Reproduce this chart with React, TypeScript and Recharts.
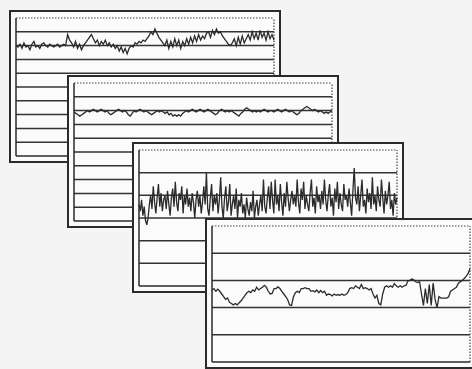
import { Line, LineChart, ReferenceLine, XAxis, YAxis } from 'recharts';

// four stacked strip-chart panels, no text, just traces

const panel1Values = [
  80, 79, 81, 78, 82, 79, 80, 77, 81, 83, 79, 80, 78, 81, 82, 80, 79, 81, 80, 79, 80, 81, 79, 80, 81, 80,
  88, 84, 82, 79, 83, 78, 81, 77, 80, 82,
  84, 86, 88, 85,
  82, 84, 80, 83, 81, 84, 80, 82, 79,
  81, 78, 80, 76, 79, 75, 78, 74, 78,
  80, 79, 82, 81, 83, 82, 84, 83, 85,
  87, 90, 88, 92, 89,
  86, 84, 82,
  80, 84, 78, 83, 79, 85, 80, 84, 78, 83, 80, 85,
  81, 86, 82, 87, 83, 88, 84, 87, 85, 89,
  90, 86, 91, 88, 92, 89, 90, 87,
  85, 83, 81, 80, 82,
  85, 80, 86, 81, 87, 82, 85,
  88, 84, 90, 85, 89, 84, 91, 86, 89, 84, 90, 85, 88, 84,
];

const panel2Values = [
  79, 78, 77, 76, 77, 78,
  79, 80, 79, 80, 81, 80, 79, 80, 81, 80, 79, 80,
  78, 77, 78, 79,
  80, 81, 80, 79, 80, 79,
  77, 76, 78,
  80, 79, 80, 81, 80, 79, 80, 79,
  78, 77, 78, 79,
  80, 79, 80, 79, 78, 79,
  77, 78, 76, 77, 76, 77, 76, 78, 79,
  80, 79, 80, 81, 80, 79, 80, 81, 80, 79, 80, 81, 80, 79,
  78, 77, 78, 80,
  81, 80, 79, 80, 79, 80, 79, 78,
  77, 76, 78, 79,
  81, 82, 81, 80, 79,
  80, 79, 80, 79, 80, 81, 80, 79, 80, 80, 79, 80, 81, 80, 79, 80, 81, 80, 79, 80, 79,
  78, 77, 78, 80,
  81, 82, 83, 82, 81,
  80, 81, 80, 79, 80, 79, 78, 79, 78, 79, 80,
];

const panel3Values = [
  36, 33, 38, 31, 35, 29, 27, 30, 36, 40, 34, 44, 37, 32, 39, 45, 35, 41, 33, 38,
  40, 34, 42, 36, 31, 39, 43, 35, 46, 37, 33, 41, 38, 44, 32, 40, 36, 43, 35, 39,
  33, 41, 37, 30, 38, 42, 35, 40, 32, 37, 44, 36, 50, 34, 31, 39, 45, 33, 40, 36,
  41, 32, 38, 48, 35, 30, 39, 44, 33, 37, 45, 31, 36, 40, 34, 43, 30, 38, 35, 41,
  32, 36, 30, 39, 34, 31, 37, 33, 42, 30, 35, 38, 31, 36, 40, 33, 47, 35, 32, 39,
  44, 34, 46, 38, 32, 47, 36, 40, 33, 45, 37, 31, 41, 35, 46, 39, 33, 38, 42, 36,
  40, 35, 47, 37, 32, 43, 38, 46, 34, 40, 36, 33, 41, 47, 35, 39, 32, 44, 37, 40,
  34, 42, 36, 47, 38, 33, 40, 45, 35, 39, 31, 43, 37, 46, 34, 41, 36, 33, 45, 38,
  40, 35, 43, 37, 31, 42, 52, 39, 36, 44, 33, 40, 47, 35, 38, 32, 43, 37, 41, 34,
  48, 36, 40, 33, 44, 38, 35, 47, 39, 32, 42, 36, 40, 46, 34, 38, 31, 41, 36, 39,
];

const panel4Values = [
  26.5, 27, 26, 26.8, 26,
  25, 24, 23, 23.5,
  22, 21.5, 21, 21.5, 21, 21.8, 22.5,
  23.5, 24.5, 25.5,
  26, 25.5, 26.5, 26, 27.5, 26.5,
  27, 27.5, 28.2, 27.5,
  26, 25, 25.2,
  27, 27, 27.6, 27,
  26, 25, 24,
  23, 21, 20.8,
  24, 25.5, 26, 25.5,
  27, 27, 27.3, 27, 27,
  26, 26.2,
  25.8, 26.5, 25.5, 26.3, 25.5, 26,
  24.5, 25, 24.8, 24.3, 25, 24.5, 24.8, 24.5, 25,
  24.5, 24.8, 25.5,
  27, 27.3, 27, 28, 27.5, 27, 28.5, 27, 27.3,
  27, 26.5, 27,
  25, 23.5, 24.5, 21.5, 21, 25,
  27.5, 28, 27.5, 28, 27.5, 28.8, 28, 27.5, 28, 27.5, 28, 28.2,
  29.8, 30, 30.5, 30.2,
  29.5, 29.2, 29.5,
  25, 20.8, 27, 21.5, 28.5, 20.8, 29, 23, 20,
  24, 23.5, 23.5, 23.5, 23.5, 24,
  26, 26.5, 27, 27.5,
  29, 29.5, 30, 30.7,
  31.5, 32.5, 34.3,
];

// grid levels below the dotted top edge (top edge = max)
const ticks1 = [10, 20, 30, 40, 50, 60, 70, 80, 90];
const ticks2 = [10, 20, 30, 40, 50, 60, 70, 80, 90];
const ticks3 = [10, 20, 30, 40, 50];
const ticks4 = [10, 20, 30, 40];

const INK = '#2b2b2b';

type PanelProps = {
  values: number[];
  ticks: number[];
  max: number;
  left: number;
  top: number;
  height: number;
};

function Panel({ values, ticks, max, left, top, height }: PanelProps) {
  const data = values.map((v, i) => ({ i, v }));
  const last = values.length - 1;
  return (
    <div
      style={{
        position: 'absolute',
        left,
        top,
        width: 272,
        height,
        boxSizing: 'border-box',
        border: `2px solid ${INK}`,
        background: '#fbfbfb',
      }}
    >
      <LineChart
        width={268}
        height={height - 4}
        data={data}
        margin={{ top: 6, right: 5, bottom: 5, left: 5 }}
      >
        <XAxis dataKey="i" type="number" domain={[0, last]} hide />
        <YAxis type="number" domain={[0, max]} ticks={ticks} hide />
        {ticks.map((t) => (
          <ReferenceLine key={t} y={t} stroke="#333" strokeWidth={1.5} />
        ))}
        <ReferenceLine y={max} stroke="#444" strokeWidth={1.2} strokeDasharray="1.5 1.5" />
        <ReferenceLine x={last} stroke="#444" strokeWidth={1.2} strokeDasharray="1.5 1.5" />
        <ReferenceLine x={0} stroke={INK} strokeWidth={1.5} />
        <ReferenceLine y={0} stroke={INK} strokeWidth={1.5} />
        <Line
          type="linear"
          dataKey="v"
          stroke={INK}
          strokeWidth={1.3}
          dot={false}
          isAnimationActive={false}
        />
      </LineChart>
    </div>
  );
}

export default function App() {
  return (
    <div
      style={{
        position: 'absolute',
        left: 0,
        top: 0,
        width: 472,
        height: 369,
        overflow: 'hidden',
        background: '#f4f4f4',
      }}
    >
      <Panel values={panel1Values} ticks={ticks1} max={100} left={9} top={10} height={153} />
      <Panel values={panel2Values} ticks={ticks2} max={100} left={67} top={75} height={153} />
      <Panel values={panel3Values} ticks={ticks3} max={60} left={132} top={142} height={151} />
      <Panel values={panel4Values} ticks={ticks4} max={50} left={205} top={218} height={151} />
    </div>
  );
}
